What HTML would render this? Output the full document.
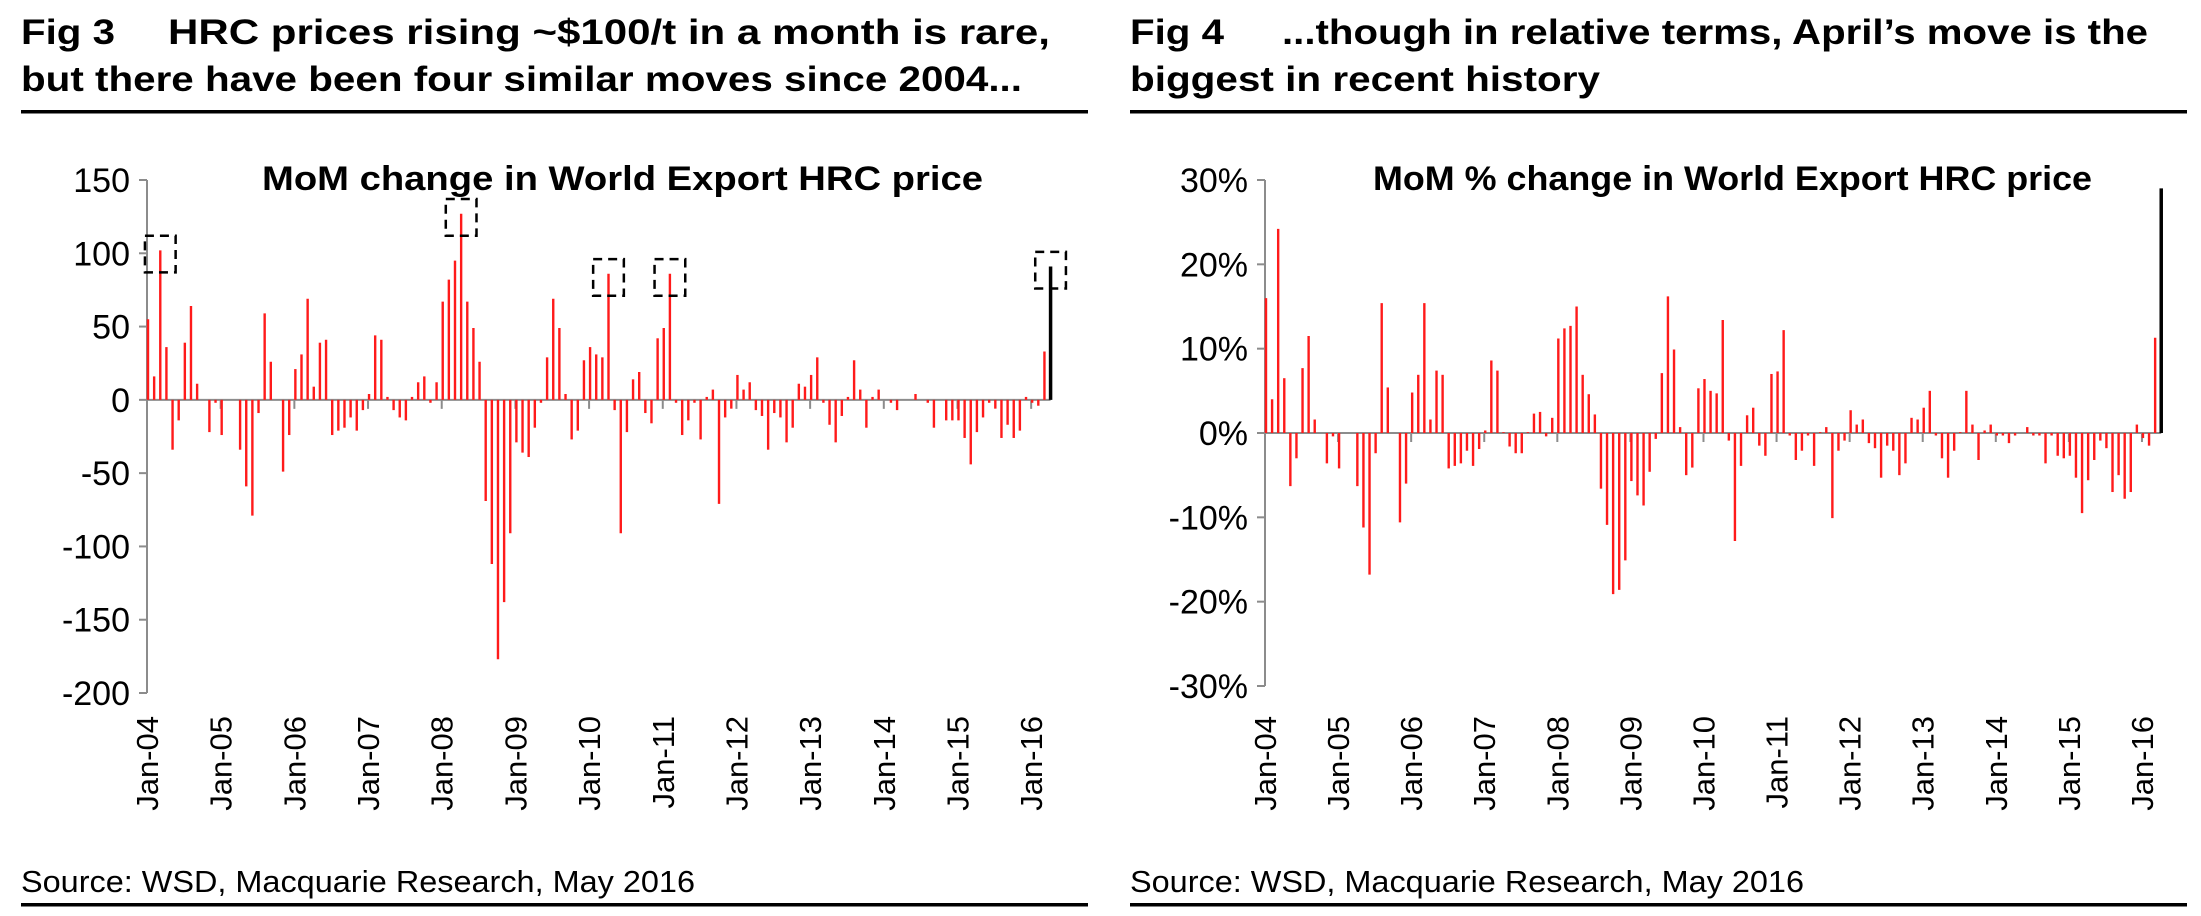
<!DOCTYPE html>
<html><head><meta charset="utf-8"><style>
html,body{margin:0;padding:0;background:#fff;}
svg{display:block;font-family:"Liberation Sans",Arial,sans-serif;}
</style></head><body>
<svg id="root" width="2201" height="916" viewBox="0 0 2201 916" xmlns="http://www.w3.org/2000/svg">
<rect width="2201" height="916" fill="#fff"/>
<g font-weight="bold" font-size="35" fill="#000">
<text x="21" y="44" textLength="94" lengthAdjust="spacingAndGlyphs">Fig 3</text>
<text x="168" y="44" textLength="882" lengthAdjust="spacingAndGlyphs">HRC prices rising ~$100/t in a month is rare,</text>
<text x="21" y="91" textLength="1001" lengthAdjust="spacingAndGlyphs">but there have been four similar moves since 2004...</text>
</g>
<rect x="21" y="110" width="1067" height="3.5" fill="#000"/>
<rect x="21" y="903" width="1067" height="3.5" fill="#000"/>
<text x="21" y="892" font-size="31" textLength="674" lengthAdjust="spacingAndGlyphs">Source: WSD, Macquarie Research, May 2016</text>
<g font-weight="bold" font-size="35" fill="#000">
<text x="1130" y="44" textLength="94" lengthAdjust="spacingAndGlyphs">Fig 4</text>
<text x="1282" y="44" textLength="866" lengthAdjust="spacingAndGlyphs">...though in relative terms, April’s move is the</text>
<text x="1130" y="91" textLength="470" lengthAdjust="spacingAndGlyphs">biggest in recent history</text>
</g>
<rect x="1130" y="110" width="1057" height="3.5" fill="#000"/>
<rect x="1130" y="903" width="1057" height="3.5" fill="#000"/>
<text x="1130" y="892" font-size="31" textLength="674" lengthAdjust="spacingAndGlyphs">Source: WSD, Macquarie Research, May 2016</text>
<g id="chart1"></g>
<g id="chart2"></g>
</svg>
<script>
var months = 148;
var yearLabels = ["Jan-04","Jan-05","Jan-06","Jan-07","Jan-08","Jan-09","Jan-10","Jan-11","Jan-12","Jan-13","Jan-14","Jan-15","Jan-16"];
var absTicks = [150,100,50,0,-50,-100,-150,-200];
var absTickLabels = ["150","100","50","0","-50","-100","-150","-200"];
var pctTicks = [30,20,10,0,-10,-20,-30];
var pctTickLabels = ["30%","20%","10%","0%","-10%","-20%","-30%"];
var absValues = [55,16,102,36,-34,-14,39,64,11,0,
-22,-2,-24,0,0,-34,-59,-79,-9,59,
26,0,-49,-24,21,31,69,9,39,41,
-24,-21,-19,-12,-21,-7,4,44,41,2,
-7,-12,-14,2,12,16,-2,12,67,82,
95,127,67,49,26,-69,-112,-177,-138,-91,
-29,-36,-39,-19,-2,29,69,49,4,-27,
-21,27,36,31,29,86,-7,-91,-22,14,
19,-9,-16,42,49,86,-2,-24,-14,-2,
-27,2,7,-71,-12,-6,17,7,12,-7,
-11,-34,-9,-12,-29,-19,11,9,17,29,
-2,-17,-29,-11,2,27,7,-19,2,7,
0,-2,-7,0,0,4,0,-2,-19,0,
-14,-14,-14,-26,-44,-22,-12,-2,-6,-26,
-17,-26,-21,2,-2,-4,33,91];
var pctValues = [16,4,24.2,6.5,-6.3,-3,7.7,11.5,1.6,0,
-3.6,-0.4,-4.2,0,0,-6.3,-11.2,-16.8,-2.4,15.4,
5.4,0,-10.6,-6,4.8,6.9,15.4,1.6,7.4,6.9,
-4.2,-3.9,-3.6,-2.1,-3.9,-1.9,0.3,8.6,7.4,0.1,
-1.6,-2.4,-2.4,0.1,2.3,2.5,-0.4,1.8,11.2,12.4,
12.7,15,6.9,4.6,2.2,-6.6,-10.9,-19.1,-18.6,-15.1,
-5.7,-7.4,-8.6,-4.6,-0.7,7.1,16.2,9.9,0.7,-5,
-4.1,5.3,6.4,5,4.7,13.4,-0.9,-12.8,-3.9,2.1,
3,-1.5,-2.7,7,7.3,12.2,-0.3,-3.2,-2.1,-0.3,
-3.9,0.1,0.7,-10.1,-2.1,-0.9,2.7,1,1.6,-1.2,
-1.8,-5.3,-1.5,-2.1,-5,-3.6,1.8,1.6,3,5,
-0.3,-3,-5.3,-2.1,0.1,5,1,-3.2,0.3,1,
-0.3,-0.3,-1.2,-0.3,0,0.7,-0.3,-0.3,-3.6,-0.3,
-2.7,-3,-2.7,-5.3,-9.5,-5.6,-3.2,-0.9,-1.8,-7,
-5,-7.8,-7,1,-0.6,-1.5,11.3,29];
var highlightMonths = [2,51,75,85,147];

var NS = "http://www.w3.org/2000/svg";
function mk(tag, attrs, parent){ var e=document.createElementNS(NS,tag); for(var k in attrs) e.setAttribute(k,attrs[k]); parent.appendChild(e); return e; }

function drawChart(g, cfg){
  var xs = function(m){ return cfg.x0 + 1 + m*cfg.dx; };
  var ys = function(v){ return cfg.yTop + (cfg.vMax - v)/(cfg.vMax - cfg.vMin)*(cfg.yBot - cfg.yTop); };
  var y0 = ys(0);
  var t = mk("text",{x:(cfg.titleX0+cfg.titleX1)/2,y:190,"font-size":34,"font-weight":"bold","text-anchor":"middle",textLength:cfg.titleX1-cfg.titleX0,lengthAdjust:"spacingAndGlyphs"},g);
  t.textContent = cfg.title;
  
  
  var ax = mk("line",{x1:cfg.x0,y1:ys(cfg.vMax),x2:cfg.x0,y2:ys(cfg.vMin),stroke:"#8c8c8c","stroke-width":2},g);
  
  
  for (var i=0;i<cfg.ticks.length;i++){
    var yy = ys(cfg.ticks[i]);
    var tk = mk("line",{x1:cfg.x0-8,y1:yy,x2:cfg.x0,y2:yy,stroke:"#8c8c8c","stroke-width":2},g);
    
    
    var lb = mk("text",{x:cfg.x0-17,y:yy+12,"font-size":34,"text-anchor":"end"},g);
    lb.textContent = cfg.tickLabels[i];
    
    
  }
  var zl = mk("line",{x1:cfg.x0,y1:y0,x2:xs(months-1),y2:y0,stroke:"#8c8c8c","stroke-width":2},g);
  
  
  for (var j=0;j<yearLabels.length;j++){
    var xx = cfg.x0 + j*12*cfg.dx;
    var xt = mk("line",{x1:xx,y1:y0,x2:xx,y2:y0+9,stroke:"#8c8c8c","stroke-width":2},g);
    
    
    var xl = mk("text",{x:0,y:0,"font-size":31,"text-anchor":"end",transform:"translate("+(xx+11)+",716) rotate(-90)"},g);
    xl.textContent = yearLabels[j];
    
    
  }
  for (var m=0;m<cfg.values.length;m++){
    var v = cfg.values[m];
    if (v===0) continue;
    var last = (m===cfg.values.length-1);
    var b = mk("line",{x1:xs(m),y1:y0,x2:xs(m),y2:ys(v),stroke:last?"#000":"#ff1a1a","stroke-width":last?3.5:2.4},g);
    
    
  }
  if (cfg.boxes){
    for (var h=0;h<highlightMonths.length;h++){
      var hm = highlightMonths[h], hv = cfg.values[hm];
      var bx = mk("rect",{x:xs(hm)-2.5*cfg.dx,y:ys(hv+10),width:5*cfg.dx,height:ys(hv-15)-ys(hv+10),fill:"none",stroke:"#000","stroke-width":2.5,"stroke-dasharray":"9,6"},g);
      
      
    }
  }
}
drawChart(document.getElementById("chart1"),{x0:147,dx:6.14,yTop:180,yBot:693,vMax:150,vMin:-200,ticks:absTicks,tickLabels:absTickLabels,values:absValues,title:"MoM change in World Export HRC price",titleX0:262,titleX1:983,boxes:true});
drawChart(document.getElementById("chart2"),{x0:1265,dx:6.09,yTop:180,yBot:686,vMax:30,vMin:-30,ticks:pctTicks,tickLabels:pctTickLabels,values:pctValues,title:"MoM % change in World Export HRC price",titleX0:1373,titleX1:2092,boxes:false});
</script>
</body></html>
